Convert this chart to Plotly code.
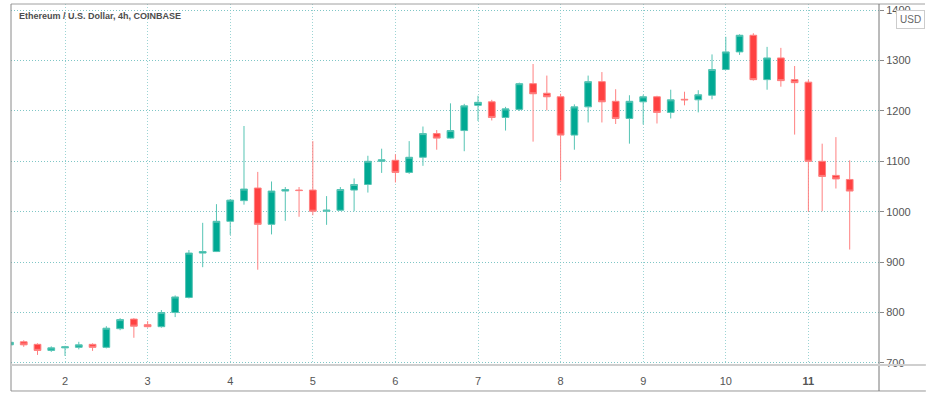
import pandas as pd
import plotly.graph_objs as go

# ETH/USD 4h candles, Jan 1 08:00 -> Jan 11 12:00 (2021)
times = pd.date_range('2021-01-01 08:00', periods=62, freq='4h')

opens = [736, 742, 737, 725, 730, 731, 737, 731, 768, 787, 776, 772, 800,
         830, 918, 921, 981, 1022, 1047, 975, 1041, 1043, 1043, 1001, 1003,
         1043, 1054, 1100, 1102, 1078, 1108, 1155, 1146, 1161, 1211, 1218,
         1187, 1203, 1254, 1235, 1228, 1152, 1208, 1258, 1219, 1185, 1218,
         1228, 1197, 1223, 1222, 1231, 1282, 1317, 1350, 1262, 1305, 1262,
         1257, 1100, 1072, 1064]
highs = [744, 745, 739, 733, 734, 742, 739, 773, 789, 789, 783, 805, 834,
         924, 978, 1015, 1025, 1170, 1079, 1060, 1049, 1049, 1140, 1031, 1049,
         1066, 1111, 1125, 1114, 1140, 1169, 1162, 1215, 1214, 1230, 1222,
         1208, 1256, 1293, 1270, 1234, 1213, 1270, 1277, 1243, 1231, 1232,
         1230, 1242, 1238, 1241, 1312, 1347, 1352, 1354, 1327, 1325, 1289,
         1262, 1135, 1148, 1102]
lows = [733, 732, 716, 722, 714, 727, 724, 729, 765, 750, 770, 770, 791,
        828, 890, 920, 954, 1014, 885, 955, 982, 990, 993, 974, 1002,
        1001, 1038, 1077, 1058, 1075, 1091, 1123, 1145, 1120, 1180, 1181,
        1161, 1200, 1139, 1201, 1062, 1123, 1177, 1177, 1174, 1135, 1173,
        1175, 1185, 1211, 1197, 1223, 1281, 1311, 1260, 1242, 1248, 1153,
        1000, 1001, 1046, 925]
closes = [741, 736, 725, 730, 732, 736, 731, 769, 786, 773, 772, 800, 831,
          918, 921, 981, 1023, 1045, 975, 1041, 1044, 1042, 1001, 1003, 1044,
          1054, 1100, 1103, 1078, 1108, 1155, 1146, 1161, 1210, 1217, 1187,
          1204, 1254, 1234, 1228, 1152, 1208, 1258, 1218, 1185, 1219, 1228,
          1197, 1222, 1222, 1232, 1282, 1317, 1350, 1262, 1305, 1260, 1256,
          1100, 1070, 1065, 1041]

day_ticks = pd.date_range('2021-01-02', '2021-01-11', freq='D')
day_labels = [str(d.day) for d in day_ticks]
day_labels[-1] = '<b>11</b>'
price_ticks = [700, 800, 900, 1000, 1100, 1200, 1300, 1400]

frame = '#8a8a8a'

data = [go.Candlestick(
    x=times, open=opens, high=highs, low=lows, close=closes,
    increasing=dict(line=dict(color='#56c4b4', width=1), fillcolor='#00a993'),
    decreasing=dict(line=dict(color='#ff8080', width=1), fillcolor='#ff4141'),
    whiskerwidth=0,
    hoverinfo='x+y')]

layout = go.Layout(
    width=949, height=406,
    margin=dict(l=11, r=70, t=4, b=41),
    paper_bgcolor='white', plot_bgcolor='white',
    showlegend=False,
    font=dict(family='Liberation Sans, Arial, sans-serif', size=11, color='#555'),
    xaxis=dict(type='date',
               range=['2021-01-01 08:18', '2021-01-11 20:31'],
               rangeslider=dict(visible=False),
               tickvals=day_ticks, ticktext=day_labels,
               showgrid=True, gridcolor='#9cd4d4', griddash='1px,2px', gridwidth=1,
               ticks='outside', ticklen=6, tickcolor='rgba(0,0,0,0)',
               zeroline=False, showline=False),
    yaxis=dict(side='right', range=[696, 1412],
               tickvals=price_ticks,
               showgrid=True, gridcolor='#7fc6c6', griddash='1px,2px', gridwidth=1,
               ticks='outside', ticklen=4, tickcolor=frame,
               zeroline=False, showline=False),
    shapes=[
        # chart frame, price-axis separator and time-axis strip
        dict(type='line', xref='paper', yref='paper', x0=0, x1=1.053, y0=1, y1=1,
             line=dict(color='#a0a0a0', width=1), layer='above'),
        dict(type='line', xref='paper', yref='paper', x0=0, x1=1.054, y0=-0.072, y1=-0.072,
             line=dict(color='#999999', width=1), layer='above'),
        dict(type='line', xref='paper', yref='paper', x0=0, x1=0, y0=-0.072, y1=1,
             line=dict(color=frame, width=1), layer='above'),
        dict(type='line', xref='paper', yref='paper', x0=1, x1=1, y0=-0.072, y1=1,
             line=dict(color='#777777', width=1), layer='above'),
        dict(type='line', xref='paper', yref='paper', x0=0, x1=1.054, y0=0, y1=0,
             line=dict(color='#cfcfcf', width=2), layer='above'),
    ],
    annotations=[
        dict(text='Ethereum / U.S. Dollar, 4h, COINBASE', xref='paper', yref='paper',
             x=0.007, y=0.967, xanchor='left', yanchor='middle', showarrow=False,
             font=dict(family='Liberation Sans, Arial, sans-serif',
                       size=9, color='#4d4d4d', weight='bold')),
        dict(text='USD', xref='paper', yref='paper', x=1.036, y=0.958,
             xanchor='center', yanchor='middle', showarrow=False,
             bgcolor='white', bordercolor='#cccccc', borderwidth=1, borderpad=3,
             font=dict(size=10, color='#666')),
    ],
)

fig = go.Figure(data=data, layout=layout)
# page body margin would push the chart 8px off the reference position
fig.write_html("out.html", config={'displayModeBar': False},
               post_script="document.body.style.margin = '0';")
